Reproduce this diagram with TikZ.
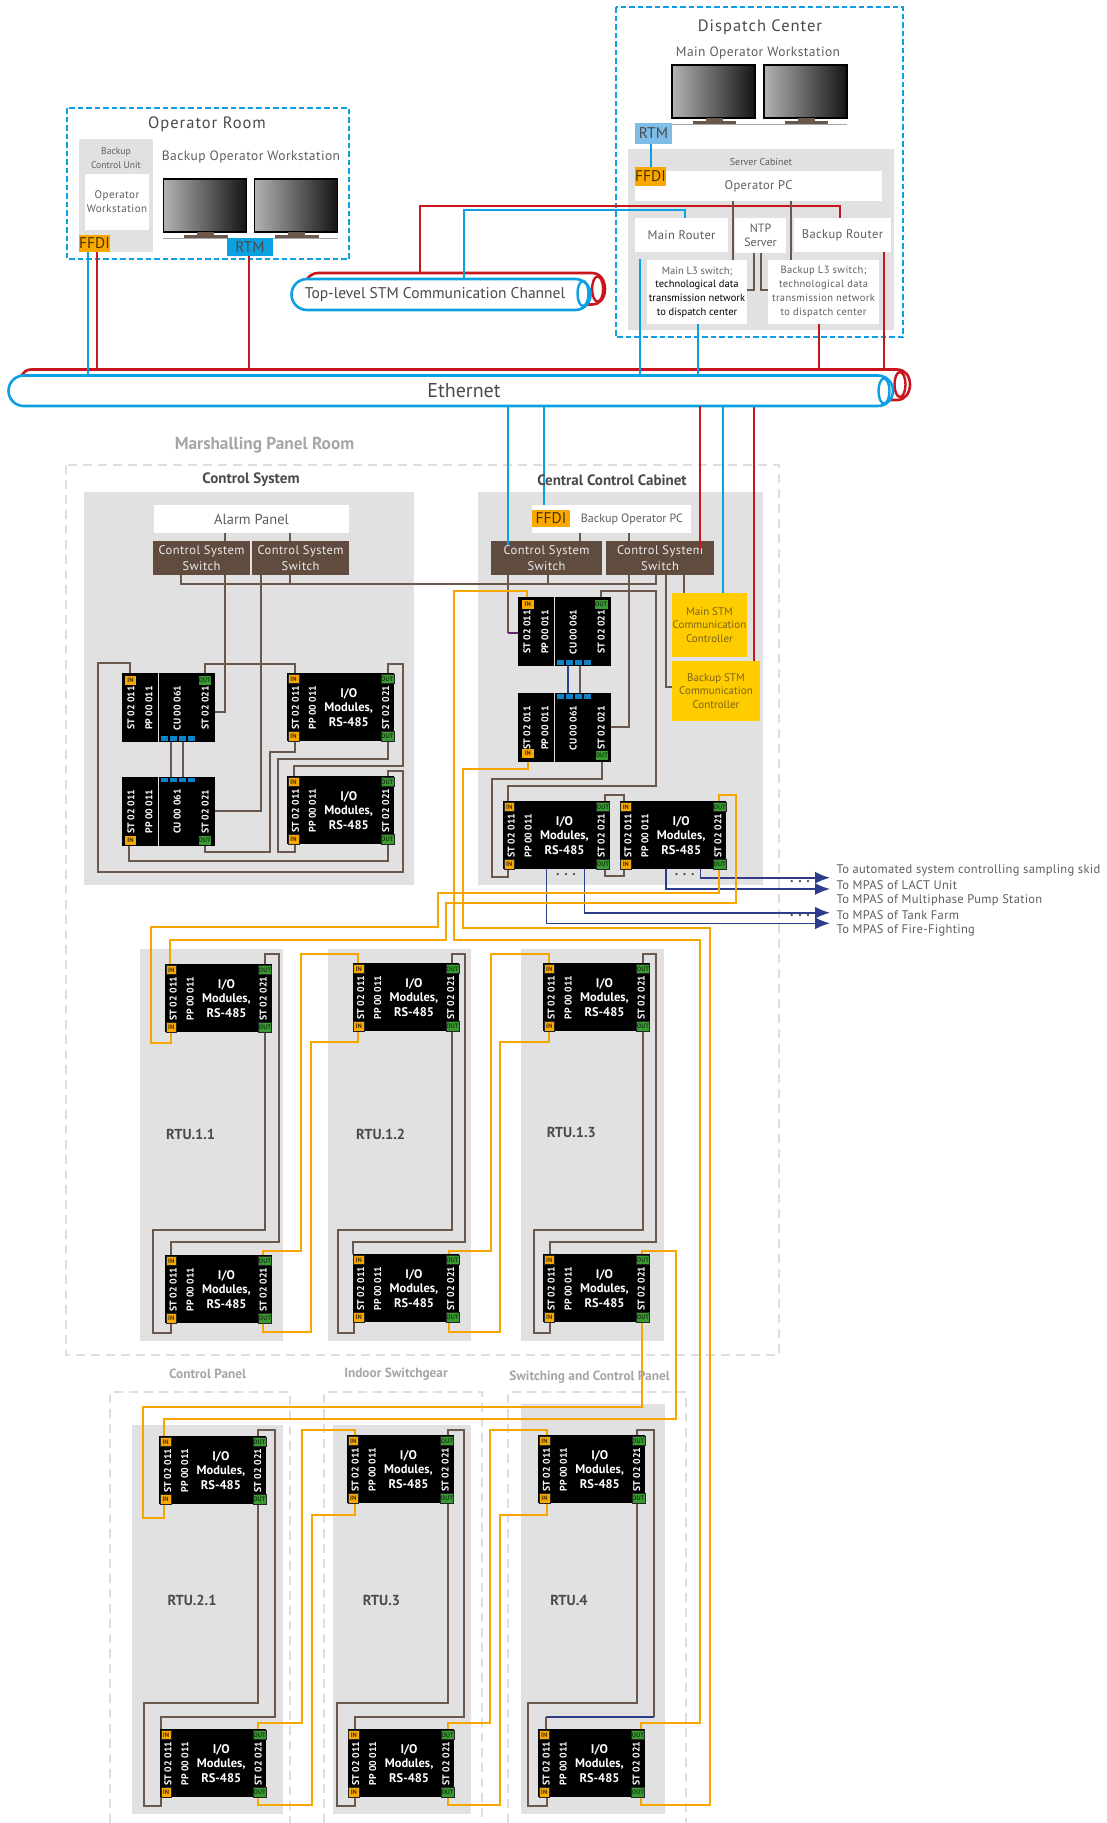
\documentclass[tikz,border=0pt]{standalone}
\usepackage{fontspec}
\setmainfont{PT Sans}
\usetikzlibrary{arrows.meta,shapes.misc}
\definecolor{lblue}{HTML}{0BA0E2}
\definecolor{lred}{HTML}{C8161D}
\definecolor{lbrown}{HTML}{6B584D}
\definecolor{lorange}{HTML}{F7A600}
\definecolor{ldblue}{HTML}{2E3C8C}
\definecolor{pgray}{HTML}{E1E1E1}
\definecolor{dgray}{HTML}{DEDEDE}
\definecolor{tgray}{HTML}{4A4A4A}
\definecolor{t2gray}{HTML}{5E5E5E}
\definecolor{swbrown}{HTML}{604C3F}
\definecolor{ffdicol}{HTML}{F9A800}
\definecolor{outgreen}{HTML}{3A9A32}
\definecolor{stmyellow}{HTML}{FFCC00}
\definecolor{stmtext}{HTML}{7A6418}
\definecolor{sqblue}{HTML}{0E82C8}
\definecolor{rtmlight}{HTML}{7DBDE8}
\pgfdeclarelayer{bgl}\pgfdeclarelayer{wirel}\pgfdeclarelayer{topl}
\pgfsetlayers{bgl,wirel,main,topl}
\newcommand\fs[2]{\fontsize{#1}{#2}\selectfont}
\newcommand\ls[1]{\addfontfeature{LetterSpace=#1}}
% style, name, x1, y1, x2, y2, text
\newcommand\bx[7]{\node[#1,inner sep=0pt,outer sep=0pt,minimum width={((#5)-(#3))*1pt},minimum height={((#6)-(#4))*1pt},align=center] (#2) at ({((#3)+(#5))/2},{((#4)+(#6))/2}) {#7};}
\newcommand\tx[5]{\node[#1,inner sep=0pt,outer sep=0pt,align=center] (#2) at (#3,#4) {#5};}
\newcommand\rt[4]{\node[modtxt,rotate=90,inner sep=0pt] (#1) at ({#2},{#3}) {#4};}
\tikzset{
 x=1pt,y=-1pt,
 wbox/.style={fill=white},
 gpanel/.style={fill=pgray},
 bluedash/.style={draw=lblue,line width=2pt,dash pattern=on 5.5pt off 3pt},
 graydash/.style={draw=dgray,line width=2pt,dash pattern=on 9pt off 6pt},
 bw/.style={draw=lbrown,line width=2pt},
 ow/.style={draw=lorange,line width=2pt},
 bl/.style={draw=lblue,line width=2pt},
 rw/.style={draw=lred,line width=2pt},
 dw/.style={draw=ldblue,line width=1.6pt},
 arw/.style={draw=ldblue,line width=1.6pt,-{Latex[length=15pt,width=12pt]}},
 modbox/.style={fill=black},
 modtxt/.style={text=white,font=\bfseries\fs{9.8}{10.5}},
 lbltxt/.style={text=white,font=\bfseries\fs{12.5}{14.5}},
 inport/.style={fill=ffdicol,draw=black!85,line width=.6pt,text=black!70!ffdicol,font=\bfseries\fs{6.5}{7}},
 outport/.style={fill=outgreen,draw=black!85,line width=.6pt,text=black!60!outgreen,font=\bfseries\fs{6.5}{7}},
 ffdi/.style={fill=ffdicol,text=black!70!ffdicol,font=\fs{15.5}{16}},
 rtm/.style={text=tgray,font=\fs{15.5}{16}},
 swbox/.style={fill=swbrown,text=white!92!black,font=\fs{12.5}{16}\ls{3.5}},
 stmbox/.style={fill=stmyellow,text=stmtext,font=\fs{11}{13.7}},
 ttl/.style={text=tgray,font=\fs{16.5}{18}\ls{6}},
 sub/.style={text=t2gray,font=\fs{13.5}{15}\ls{3}},
 small/.style={text=t2gray,font=\fs{11}{14}\ls{4}},
 boldh/.style={text=tgray,font=\bfseries\fs{15}{16}},
 boldg/.style={text=black!35,font=\bfseries\fs{13.3}{15}},
 boldgb/.style={text=black!35,font=\bfseries\fs{17.3}{19}},
 rtutxt/.style={text=tgray,font=\bfseries\fs{14.5}{15}},
 tolabel/.style={text=t2gray,font=\fs{12.5}{14}\ls{2.5},anchor=west},
 dotstxt/.style={text=tgray,font=\bfseries\fs{14}{14}},
 tubeb/.style={rounded rectangle,draw=lblue,line width=2.6pt,fill=white},
 tuber/.style={draw=lred,line width=2.6pt},
 ringb/.style={draw=lblue,line width=2.4pt},
 ringr/.style={draw=lred,line width=2.4pt},
}
% I/O module: name, x, y
\newcommand\iomod[3]{%
 \bx{modbox}{#1}{#2}{#3}{#2+106.6}{#3+68}{}
 \bx{inport}{#1-it}{#2+1}{#3+1}{#2+11.5}{#3+10.5}{IN}
 \bx{inport}{#1-ib}{#2+1}{#3+58.5}{#2+11.5}{#3+68.5}{IN}
 \bx{outport}{#1-ot}{#2+93.5}{#3+1}{#2+106.5}{#3+10.5}{OUT}
 \bx{outport}{#1-ob}{#2+93.5}{#3+58.5}{#2+106.5}{#3+68.5}{OUT}
 \rt{#1-s1}{#2+8.2}{#3+34.5}{ST 02 011}
 \rt{#1-pp}{#2+25.2}{#3+34.5}{PP 00 011}
 \rt{#1-s2}{#2+98.3}{#3+34.5}{ST 02 021}
 \node[lbltxt,inner sep=0pt,align=center] (#1-lb) at ({#2+61.5},{#3+34.5}) {I/O\\Modules,\\RS-485};
}
% CU pair: name, x, y
\newcommand\cumod[3]{%
 \bx{modbox}{#1l}{#2}{#3}{#2+35.7}{#3+69}{}
 \bx{modbox}{#1r}{#2+36.8}{#3}{#2+92.8}{#3+69}{}
 \rt{#1-s1}{#2+9}{#3+35}{ST 02 011}
 \rt{#1-pp}{#2+27}{#3+35}{PP 00 011}
 \rt{#1-cu}{#2+55.3}{#3+35}{CU 00 061}
 \rt{#1-s2}{#2+83.3}{#3+35}{ST 02 021}
}
\newcommand\cutop[2]{%
 \foreach \q in {38.5,47.5,56.7,66}{\fill[sqblue] ({#1+\q},{#2+63.3}) rectangle ({#1+\q+7},{#2+68});}
}
\newcommand\cubot[2]{%
 \foreach \q in {38.5,47.5,56.7,66}{\fill[sqblue] ({#1+\q},{#2+1}) rectangle ({#1+\q+7},{#2+5.7});}
}
% monitor: name, x, y
\newcommand\monitor[3]{%
 \shade[left color=black!30,right color=black!92,draw=black,line width=1.8pt] (#2,#3) rectangle ({#2+83},{#3+53});
 \fill[lbrown] ({#2+33.5},{#3+53}) rectangle ({#2+50.5},{#3+56});
 \fill[lbrown] ({#2+20.5},{#3+56}) rectangle ({#2+64},{#3+59.3});
}
\begin{document}
\begin{tikzpicture}
\useasboundingbox (0,0) rectangle (1106,1823);
% ---------- panels
\begin{pgfonlayer}{bgl}
\fill[white] (0,0) rectangle (1106,1823);
\draw[graydash] (66,465) rectangle (779,1355);
\draw[graydash] (109.5,1823) -- (109.5,1392) -- (290,1392) -- (290,1823);
\draw[graydash] (323.5,1823) -- (323.5,1392) -- (482,1392) -- (482,1823);
\draw[graydash] (508,1823) -- (508,1392) -- (686,1392) -- (686,1823);
\draw[bluedash] (67,108) rectangle (349,259);
\draw[bluedash] (615.7,7) rectangle (903,337);
\bx{gpanel}{bcu}{79}{139}{153}{252}{}
\bx{gpanel}{srv}{628}{149}{894}{330}{}
\bx{gpanel}{csp}{84}{492}{414}{885}{}
\bx{gpanel}{ccp}{478}{492}{763}{885}{}
\bx{gpanel}{p11}{140}{949}{283}{1340.7}{}
\bx{gpanel}{p12}{328}{949}{471}{1340.7}{}
\bx{gpanel}{p13}{521}{949}{664}{1340.7}{}
\bx{gpanel}{p21}{132}{1425}{283}{1814}{}
\bx{gpanel}{p3}{333}{1425}{471}{1814}{}
\bx{gpanel}{p4}{521}{1404}{665}{1814}{}
\end{pgfonlayer}
% ---------- operator room
\tx{ttl}{opttl}{207}{124.5}{Operator Room}
\tx{text=t2gray,font=\fs{9.6}{14}}{bcut}{116}{158}{Backup\\Control Unit}
\bx{wbox,small}{opws}{85}{174}{149}{230}{Operator\\Workstation}
\bx{ffdi}{ffdi1}{79}{235}{110}{252}{FFDI}
\tx{sub}{bows}{251}{157.5}{Backup Operator Workstation}
\monitor{mon1}{163.5}{179}
\monitor{mon2}{254.5}{179}
\draw[black!35,line width=1.5pt] (162.5,238.7) -- (338,238.7);
\bx{fill=lblue,rtm}{rtm1}{227}{238}{273}{256}{RTM}
% ---------- dispatch center
\tx{ttl}{dcttl}{760}{27}{Dispatch Center}
\tx{sub}{mows}{758}{53}{Main Operator Workstation}
\monitor{mon3}{672}{65}
\monitor{mon4}{764}{65}
\draw[black!35,line width=1.5pt] (671,124.5) -- (847,124.5);
\bx{fill=rtmlight,rtm}{rtm2}{635}{123}{672}{144}{RTM}
\tx{text=t2gray,font=\fs{10}{12}}{srvt}{761}{162}{Server Cabinet}
\bx{wbox,text=t2gray,font=\fs{12.5}{14}\ls{3}}{oppc}{635}{171}{882}{201}{Operator PC}
\bx{ffdi}{ffdi2}{635}{167}{666}{186}{FFDI}
\bx{wbox,text=t2gray,font=\fs{12.5}{14}\ls{3}}{mrt}{635}{218}{728}{252}{Main Router}
\bx{wbox,text=t2gray,font=\fs{12}{13.5}}{ntp}{735}{218}{786}{253}{NTP\\Server}
\bx{wbox,text=t2gray,font=\fs{12.5}{14}\ls{3}}{brt}{794}{218}{891}{252}{Backup Router}
\bx{wbox,text=black,font=\fs{10.5}{13.6}}{ml3}{647}{260}{747}{324}{\textcolor{t2gray}{Main L3 switch;}\\technological data\\transmission network\\to dispatch center}
\bx{wbox,text=t2gray,font=\fs{10.5}{14}\ls{3.5}}{bl3}{768}{260}{879}{324}{Backup L3 switch;\\technological data\\transmission network\\to dispatch center}
% ---------- tubes
\bx{tubeb}{stm}{291.5}{279}{590.6}{310}{}
\tx{text=tgray,font=\fs{15.5}{17}}{stmt}{435}{295}{Top-level STM Communication Channel}
\draw[ringb] (583,293.5) ellipse [x radius=5.5pt,y radius=12.5pt];
\bx{tubeb}{eth}{8.5}{375.5}{893}{406}{}
\tx{text=tgray,font=\fs{20}{22}}{etht}{464}{390.5}{Ethernet}
\draw[ringb] (884,391) ellipse [x radius=5.5pt,y radius=12.5pt];
\coordinate (ethred) at (0,369.5);
\coordinate (stmred) at (0,273);
\tx{boldgb}{mprt}{264.5}{445}{Marshalling Panel Room}
% ---------- control system
\tx{boldh}{cst}{251}{480}{Control System}
\bx{wbox,text=t2gray,font=\fs{14.5}{16}}{apan}{154}{505}{349}{533}{Alarm Panel}
\bx{swbox}{asw1}{153}{541}{250}{575}{Control System\\Switch}
\bx{swbox}{asw2}{252}{541}{349}{575}{Control System\\Switch}
\cumod{cla}{122}{673}
\cutop{122}{673}
\bx{inport,draw=none}{cla-in}{125}{676}{136}{685}{IN}
\bx{outport,draw=none}{cla-out}{199}{676}{210.5}{685}{OUT}
\cumod{clb}{122}{776.5}
\cubot{122}{776.5}
\bx{inport,draw=none}{clb-in}{125}{835.5}{136}{844.5}{IN}
\bx{outport,draw=none}{clb-out}{199}{835.5}{210.5}{844.5}{OUT}
\iomod{lio1}{287.3}{673}
\iomod{lio2}{287.3}{776}
% ---------- central cabinet
\tx{boldh}{cct}{612}{480}{Central Control Cabinet}
\bx{wbox}{bpc}{532}{505}{691}{533}{}
\bx{ffdi}{cffdi}{532}{510}{570}{527}{FFDI}
\tx{text=t2gray,font=\fs{12}{14}}{bpct}{632}{519}{Backup Operator PC}
\bx{swbox}{csw1}{491}{541}{602}{575}{Control System\\Switch}
\bx{swbox}{csw2}{606}{541}{714}{575}{Control System\\Switch}
\bx{stmbox}{mstm}{672}{593}{747}{657}{Main STM\\Communication\\Controller}
\bx{stmbox}{bstm}{672}{661}{760}{720.7}{Backup STM\\Communication\\Controller}
\cumod{c1}{518}{597}
\cutop{518}{597}
\bx{inport,draw=none}{c1-in}{522}{600}{533.5}{609}{IN}
\bx{outport,draw=none}{c1-out}{595}{600}{607.5}{609}{OUT}
\cumod{c2}{518}{693}
\cubot{518}{693}
\bx{inport,draw=none}{c2-in}{522.4}{749}{533.5}{758}{IN}
\bx{outport,draw=none}{c2-out}{596}{751}{607.8}{760}{OUT}
\iomod{cio1}{503}{801}
\iomod{cio2}{619.7}{801}
\tx{dotstxt}{dots1}{566}{875}{. . .}
\tx{dotstxt}{dots2}{684.7}{875}{. . .}
\tx{dotstxt}{dots3}{800}{881.5}{. . .}
\tx{dotstxt}{dots4}{800}{916}{. . .}
\node[tolabel,inner sep=0pt] (to1) at (836.4,870) {To automated system controlling sampling skid};
\node[tolabel,inner sep=0pt] (to2) at (836.4,885) {To MPAS of LACT Unit};
\node[tolabel,inner sep=0pt] (to3) at (836.4,900) {To MPAS of Multiphase Pump Station};
\node[tolabel,inner sep=0pt] (to4) at (836.4,915) {To MPAS of Tank Farm};
\node[tolabel,inner sep=0pt] (to5) at (836.4,930) {To MPAS of Fire-Fighting};
% ---------- RTU
\iomod{r11t}{165}{964}\iomod{r11b}{165}{1255}
\iomod{r12t}{352.5}{963}\iomod{r12b}{352.5}{1254}
\iomod{r13t}{543}{963}\iomod{r13b}{543}{1254}
\tx{rtutxt}{rt11}{190.7}{1134}{RTU.1.1}
\tx{rtutxt}{rt12}{380.7}{1134}{RTU.1.2}
\tx{rtutxt}{rt13}{571.4}{1132.7}{RTU.1.3}
\tx{boldg}{cpl}{207.6}{1374.3}{Control Panel}
\tx{boldg}{isg}{396}{1374.3}{Indoor Switchgear}
\tx{boldg}{scp}{589.5}{1377.3}{Switching and Control Panel}
\iomod{r21t}{159.4}{1436}\iomod{r21b}{159.8}{1729}
\iomod{r3t}{347}{1435}\iomod{r3b}{347.6}{1729}
\iomod{r4t}{538.3}{1435}\iomod{r4b}{538}{1729}
\tx{rtutxt}{rt21}{192}{1600}{RTU.2.1}
\tx{rtutxt}{rt3}{381.5}{1600}{RTU.3}
\tx{rtutxt}{rt4}{569}{1600}{RTU.4}
% ---------- wires
\begin{pgfonlayer}{wirel}
% tubes, back part
\draw[tuber] (21.4,376) .. controls (24,371.5) and (27,369.5) .. (31,369.5) -- (897,369.5) .. controls (905,369.5) and (910,376) .. (910,384.5) .. controls (910,393) and (905,400) .. (897,400) -- (888,400);
\draw[ringr] (900,384.5) ellipse [x radius=5.5pt,y radius=12.5pt];
\draw[tuber] (307,279) .. controls (310,275) and (314,273) .. (318,273) -- (592,273) .. controls (600,273) and (605,280) .. (605,289) .. controls (605,298) and (600,304.5) .. (592,304.5) -- (586,304.5);
\draw[ringr] (597.6,289) ellipse [x radius=5.5pt,y radius=12.5pt];
% operator room links
\draw[bl] (88,0 |- ffdi1.south) -- (88,0 |- eth.north);
\draw[rw] (97,0 |- ffdi1.south) -- (97,0 |- ethred);
\draw[rw] (249,0 |- rtm1.south) -- (249,0 |- ethred);
% dispatch
\draw[bl] (651,0 |- rtm2.south) -- (651,0 |- ffdi2.north);
\draw[rw] (420,0 |- stmred) -- (420,205.7) -- (840,205.7) -- (840,0 |- brt.north);
\draw[bl] (463.6,0 |- stm.north) -- (463.6,210) -- (684.7,210) -- (684.7,0 |- mrt.north);
\draw[bw] (733,0 |- oppc.south) -- (733,0 |- ml3.north);
\draw[bw] (791,0 |- oppc.south) -- (791,0 |- bl3.north);
\draw[bw] (753.6,0 |- ntp.south) -- (753.6,290) -- (0,290 -| ml3.east);
\draw[bw] (760.6,0 |- ntp.south) -- (760.6,290) -- (0,290 -| bl3.west);
\draw[bl] (640,259) -- (640,0 |- eth.north);
\draw[bl] (697.5,0 |- ml3.south) -- (697.5,0 |- eth.north);
\draw[rw] (819,0 |- bl3.south) -- (819,0 |- ethred);
\draw[rw] (884,0 |- brt.south) -- (884,0 |- ethred);
% ethernet to central cabinet
\draw[bl] (543.6,0 |- eth.south) -- (543.6,0 |- cffdi.north);
\draw[bl] (723,0 |- eth.south) -- (723,0 |- mstm.north);
\draw[rw] (753.5,0 |- eth.south) -- (753.5,0 |- bstm.north);
% control system switches
\draw[bw] (225,0 |- apan.south) -- (225,0 |- asw1.north);
\draw[bw] (289.7,0 |- apan.south) -- (289.7,0 |- asw2.north);
\draw[bw] (225,0 |- asw1.south) -- (225,711.7) -- (0,711.7 -| clar.east);
\draw[bw] (261,0 |- asw2.south) -- (261,810.7) -- (0,810.7 -| clbr.east);
\draw[bw] (181,0 |- asw1.south) -- (181,584.3) -- (655.8,584.3) -- (655.8,0 |- csw2.south);
\draw[bw] (289.7,0 |- asw2.south) -- (289.7,584.3);
\draw[bw] (548,0 |- csw1.south) -- (548,584.3);
\draw[bw] (171.3,0 |- clar.south) -- (171.3,0 |- clbr.north);
\draw[bw] (182.7,0 |- clar.south) -- (182.7,0 |- clbr.north);
\draw[bw] (130,0 |- clal.north) -- (130,662.7) -- (98.3,662.7) -- (98.3,872) -- (403.3,872) -- (403.3,771) -- (387.7,771) -- (387.7,0 |- lio2.north);
\draw[bw] (205,0 |- clar.north) -- (205,664.3) -- (294.7,664.3) -- (294.7,0 |- lio1.north);
\draw[bw] (294.7,0 |- lio1.south) -- (294.7,752.3) -- (270,752.3) -- (270,851.7) -- (205,851.7) -- (205,0 |- clbr.south);
\draw[bw] (387.7,0 |- lio1.north) -- (387.7,664) -- (403.3,664) -- (403.3,766) -- (294.3,766) -- (294.3,0 |- lio2.north);
\draw[bw] (387.7,0 |- lio1.south) -- (387.7,759.3) -- (278,759.3) -- (278,852) -- (294.7,852) -- (294.7,0 |- lio2.south);
\draw[bw] (387.7,0 |- lio2.south) -- (387.7,860.7) -- (129.3,860.7) -- (129.3,0 |- clbl.south);
% central cabinet
\draw[bw] (580,0 |- bpc.south) -- (580,0 |- csw1.north);
\draw[bw] (628.6,0 |- bpc.south) -- (628.6,0 |- csw2.north);
\draw[bw] (508.4,0 |- csw1.south) -- (508.4,632.7);
\draw[draw=ldblue!60!purple,line width=2pt] (508.4,632.7) -- (0,632.7 -| c1l.west);
\draw[bw] (628.6,0 |- csw2.south) -- (628.6,727) -- (0,727 -| c2r.east);
\draw[bw] (601.4,0 |- c1r.north) -- (601.4,591) -- (655.8,591) -- (655.8,786) -- (508.4,786) -- (508.4,0 |- cio1.north);
\draw[bw] (665.6,0 |- csw2.south) -- (665.6,687) -- (0,687 -| bstm.west);
\draw[bw] (684,0 |- csw2.south) -- (684,0 |- mstm.north);
\draw[bw] (601.9,0 |- c2r.south) -- (601.9,778.7) -- (491.8,778.7) -- (491.8,877) -- (508.4,877) -- (508.4,0 |- cio1.south);
\draw[bw] (604.8,0 |- cio1.north) -- (604.8,794.7) -- (624,794.7) -- (624,0 |- cio2.north);
\draw[bw] (604.8,0 |- cio1.south) -- (604.8,876) -- (624,876) -- (624,0 |- cio2.south);
\draw[dw,line width=2pt] (568.3,0 |- c1r.south) -- (568.3,0 |- c2r.north);
\draw[bw] (580.3,0 |- c1r.south) -- (580.3,0 |- c2r.north);
% arrows
\draw[arw] (700.4,0 |- cio2.south) -- (700.4,877.7) -- (830,877.7);
\draw[arw] (666,0 |- cio2.south) -- (666,889) -- (830,889);
\draw[arw] (584.4,0 |- cio1.south) -- (584.4,912.7) -- (830,912.7);
\draw[arw] (546.6,0 |- cio1.south) -- (546.6,923.3) -- (830,923.3);
% orange ring
\draw[ow] (718.7,0 |- cio2.north) -- (718.7,794.7) -- (735.7,794.7) -- (735.7,903) -- (446,903) -- (446,940) -- (170.4,940) -- (170.4,0 |- r11t.north);
\draw[ow] (718.7,0 |- cio2.south) -- (718.7,893.3) -- (438,893.3) -- (438,927) -- (150.7,927) -- (150.7,1043) -- (171,1043) -- (171,0 |- r11t.south);
\draw[ow] (527,0 |- c1l.north) -- (527,591) -- (454,591) -- (454,940) -- (700,940) -- (700,1723) -- (640.6,1723) -- (640.6,0 |- r4b.north);
\draw[ow] (528.4,0 |- c2l.south) -- (528.4,769) -- (463,769) -- (463,928) -- (710.2,928) -- (710.2,1805) -- (640.6,1805) -- (640.6,0 |- r4b.south);
% RTU 1.x brown
\draw[bw] (265,0 |- r11t.north) -- (265,954.3) -- (278.6,954.3) -- (278.6,1241.7) -- (171,1241.7) -- (171,0 |- r11b.north);
\draw[bw] (265,0 |- r11t.south) -- (265,1230) -- (153,1230) -- (153,1332.7) -- (171,1332.7) -- (171,0 |- r11b.south);
\draw[bw] (452,0 |- r12t.north) -- (452,954.3) -- (465,954.3) -- (465,1241.7) -- (353.2,1241.7) -- (353.2,0 |- r12b.north);
\draw[bw] (452,0 |- r12t.south) -- (452,1230) -- (338,1230) -- (338,1332.7) -- (354,1332.7) -- (354,0 |- r12b.south);
\draw[bw] (643,0 |- r13t.north) -- (643,954.3) -- (656,954.3) -- (656,1241.7) -- (549.6,1241.7) -- (549.6,0 |- r13b.north);
\draw[bw] (643,0 |- r13t.south) -- (643,1230) -- (533.6,1230) -- (533.6,1332.7) -- (550,1332.7) -- (550,0 |- r13b.south);
% RTU 1.x orange
\draw[ow] (263,0 |- r11b.north) -- (263,1250.7) -- (300.7,1250.7) -- (300.7,954.3) -- (358,954.3) -- (358,0 |- r12t.north);
\draw[ow] (263,0 |- r11b.south) -- (263,1331.7) -- (311,1331.7) -- (311,1042.3) -- (358,1042.3) -- (358,0 |- r12t.south);
\draw[ow] (448.6,0 |- r12b.north) -- (448.6,1250.7) -- (490.7,1250.7) -- (490.7,954.3) -- (548.6,954.3) -- (548.6,0 |- r13t.north);
\draw[ow] (448.6,0 |- r12b.south) -- (448.6,1331.7) -- (500.4,1331.7) -- (500.4,1042.3) -- (548.6,1042.3) -- (548.6,0 |- r13t.south);
% RTU 1.3 to 2.1
\draw[ow] (641.8,0 |- r13b.north) -- (641.8,1250.7) -- (675.7,1250.7) -- (675.7,1419) -- (163.6,1419) -- (163.6,0 |- r21t.north);
\draw[ow] (642,0 |- r13b.south) -- (642,1407) -- (143.3,1407) -- (143.3,1517.7) -- (163.6,1517.7) -- (163.6,0 |- r21t.south);
% lower brown
\draw[bw] (258,0 |- r21t.north) -- (258,1429.7) -- (275,1429.7) -- (275,1716.7) -- (161.4,1716.7) -- (161.4,0 |- r21b.north);
\draw[bw] (258,0 |- r21t.south) -- (258,1703.3) -- (144,1703.3) -- (144,1806) -- (161.4,1806) -- (161.4,0 |- r21b.south);
\draw[bw] (447.5,0 |- r3t.north) -- (447.5,1429.7) -- (464.4,1429.7) -- (464.4,1716.7) -- (354.6,1716.7) -- (354.6,0 |- r3b.north);
\draw[bw] (447.5,0 |- r3t.south) -- (447.5,1703.3) -- (337,1703.3) -- (337,1806) -- (355,1806) -- (355,0 |- r3b.south);
\draw[bw] (637,0 |- r4t.north) -- (637,1429.7) -- (654,1429.7) -- (654,1716.7);
\draw[dw,line width=2pt] (654,1716.7) -- (546,1716.7);
\draw[bw] (546,1716.7) -- (546,0 |- r4b.north);
\draw[bw] (637,0 |- r4t.south) -- (637,1703.3) -- (528.3,1703.3) -- (528.3,1806) -- (546.5,1806) -- (546.5,0 |- r4b.south);
% lower orange
\draw[ow] (257.5,0 |- r21b.north) -- (257.5,1723) -- (302,1723) -- (302,1429.7) -- (355,1429.7) -- (355,0 |- r3t.north);
\draw[ow] (257.5,0 |- r21b.south) -- (257.5,1805) -- (311.7,1805) -- (311.7,1515) -- (355,1515) -- (355,0 |- r3t.south);
\draw[ow] (448,0 |- r3b.north) -- (448,1723) -- (490.4,1723) -- (490.4,1429.7) -- (547,1429.7) -- (547,0 |- r4t.north);
\draw[ow] (448,0 |- r3b.south) -- (448,1805) -- (499.5,1805) -- (499.5,1515) -- (547,1515) -- (547,0 |- r4t.south);
\end{pgfonlayer}
\begin{pgfonlayer}{topl}
\draw[bl] (508.4,0 |- eth.south) -- (508.4,545);
\draw[rw] (700.4,0 |- eth.south) -- (700.4,550);
\end{pgfonlayer}
\end{tikzpicture}
\end{document}
